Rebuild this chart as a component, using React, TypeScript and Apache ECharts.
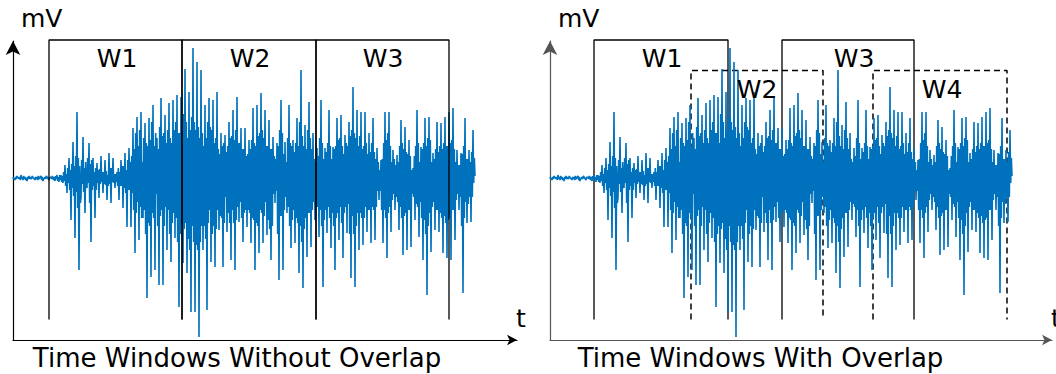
import { useEffect, useRef } from "react";
import * as echarts from "echarts";

// time step between samples (time units)
const SAMPLE_STEP = 2 / 3;

// EMG signal (mV, arbitrary units), one value per sample
const emgSignal = [
  1, -1, 0, -2, 1, -1, 2, 0, 1, -1, 1, -2, 3, -1, 1, -2, 2, -1, 1, -2, 0, -3, 1, -1, 2, -1, 1, -1, 0, 2,
  2, -1, 0, -2, 1, -1, 1, -2, 2, -1, 0, 1, 2, -2, 1, -3, 0, -1, 1, -1, 2, 2, 0, -1, -2, 1, 0, 1, -1, 2,
  2, -2, 1, -3, 2, -1, 3, -3, 1, -4, 3, -2, 3, -4, 2, -5, 6, -3, 13, -8, 4, -15, 10, -5, 20, -12, 8, -42, 14, -10,
  36, -18, 12, -60, 22, -14, 66, -30, 20, -92, 12, -25, -20, 18, -6, 41, -14, 10, -35, 16, -8, -10, 20, -5, 35, -25, 14, -64, 18, -12,
  20, -8, 6, -40, 10, -12, 15, -5, 8, -20, 9, -6, 22, -4, 6, -15, 6, -6, 18, -7, 7, -22, 3, -8, 25, -6, 10, -25, 10, -4,
  20, -5, 4, -10, 4, -4, 6, -8, 10, -22, 6, -8, 18, -8, 12, -30, 12, -10, 25, -15, 8, -49, 18, -12, 30, -12, 16, -49, 22, -15,
  50, -32, 29, -75, 45, -35, 61, -24, 32, -62, 48, -29, 66, -40, 16, -40, 40, -32, 55, -56, 35, -120, 32, -45, 60, -48, 38, -99, 56, -35,
  73, -40, 32, -92, 45, -16, 40, -48, 29, -107, 51, -38, 80, -32, 42, -107, 45, -48, 63, -29, 35, -72, 48, -32, 75, -56, 40, -84, 35, -45,
  78, -35, 48, -60, 56, -40, 83, -64, 45, -129, 45, -56, 81, -48, 35, -85, 64, -51, 109, -45, 56, -95, 40, -61, 86, -72, 48, -134, 61, -48,
  130, -64, 56, -134, 48, -67, 116, -72, 51, -159, 40, -64, 108, -48, 45, -72, 32, -48, 73, -61, 40, -132, 56, -45, 80, -32, 51, -84, 48, -56,
  78, -48, 35, -89, 40, -51, 86, -32, 29, -52, 24, -38, 45, -40, 32, -89, 35, -45, 43, -19, 26, -54, 32, -35, 56, -45, 40, -82, 42, -32,
  68, -45, 38, -92, 48, -42, 81, -29, 35, -44, 35, -24, 50, -40, 29, -64, 29, -35, 50, -32, 22, -49, 24, -32, 38, -35, 29, -65, 38, -40,
  70, -42, 35, -92, 32, -45, 73, -48, 42, -75, 45, -32, 85, -35, 48, -65, 40, -38, 68, -24, 32, -57, 32, -42, 58, -51, 29, -82, 29, -48,
  41, -16, 22, -25, 19, -13, 35, -56, 32, -102, 48, -38, 78, -38, 45, -92, 24, -32, 36, -19, 16, -35, 40, -29, 73, -48, 35, -70, 32, -42,
  38, -32, 26, -65, 35, -40, 60, -45, 32, -95, 56, -48, 108, -64, 42, -110, 32, -51, 53, -40, 29, -79, 48, -35, 76, -35, 40, -69, 29, -32,
  45, -24, 19, -42, 16, -26, 30, -29, 22, -59, 40, -32, 78, -48, 35, -109, 19, -42, 30, -32, 26, -55, 35, -29, 68, -40, 32, -70, 19, -35,
  31, -48, 29, -92, 32, -40, 60, -35, 38, -62, 40, -29, 63, -45, 32, -80, 24, -35, 43, -29, 35, -55, 32, -26, 56, -56, 42, -100, 48, -38,
  91, -56, 45, -109, 40, -48, 68, -35, 32, -72, 42, -35, 66, -40, 29, -67, 32, -40, 66, -29, 35, -54, 24, -32, 45, -32, 26, -65, 35, -29,
  60, -32, 26, -62, 19, -29, 30, -13, 16, -22, 8, -13, 18, -32, 19, -65, 35, -32, 66, -40, 38, -80, 45, -35, 66, -29, 32, -54, 16, -22,
  28, -16, 19, -32, 13, -19, 23, -24, 16, -52, 32, -29, 58, -40, 35, -77, 29, -38, 51, -35, 26, -72, 24, -32, 38, -32, 22, -69, 8, -16,
  10, -19, 22, -42, 32, -26, 68, -29, 35, -59, 16, -24, 31, -40, 29, -82, 35, -42, 60, -56, 32, -117, 40, -48, 61, -35, 38, -74, 16, -29,
  25, -24, 19, -52, 29, -32, 56, -32, 26, -54, 32, -35, 55, -40, 29, -75, 35, -38, 61, -45, 32, -80, 32, -42, 66, -40, 35, -82, 38, -32,
  70, -32, 29, -62, 16, -22, 28, -16, 13, -32, 13, -19, 25, -48, 24, -115, 32, -40, 60, -24, 19, -45, 19, -26, 28, -19, 16, -44, 26, -19,
  48, -5, 20, 2,
];

// Windows without overlap
const windowNamesA = ["W1", "W2", "W3"];
const windowStartA = [36, 169, 303];
const windowEndA = [169, 303, 436];
const labelTimeA = [104, 237, 370];

// Windows with overlap
const windowNamesB = ["W1", "W2", "W3", "W4"];
const windowStartB = [44, 141, 232, 323];
const windowEndB = [178, 273, 364, 457];
const windowDashedB = [false, true, false, true];
const labelTimeB = [112, 207, 304, 392];

const SOLID_TOP = 138;
const DASHED_TOP = 107.5;
const WIN_BOTTOM = -141.5;
const LABEL_V_SOLID = 119.7;
const LABEL_V_DASHED = 88.5;

const FONT = "DejaVu Sans";

export default function App() {
  const ref = useRef<HTMLDivElement>(null);

  useEffect(() => {
    if (!ref.current) return;
    const chart = echarts.init(ref.current, undefined, { renderer: "svg" });

    const axisColors = ["#000000", "#555555"];
    const winColors = ["#000000", "#000000"];
    const xMax = [504, 502];

    const signalData = emgSignal.map((v, k) => [k * SAMPLE_STEP, v]);

    const series: any[] = [];
    [0, 1].forEach((g) => {
      series.push({
        type: "line",
        xAxisIndex: g,
        yAxisIndex: g,
        data: signalData,
        symbol: "none",
        showSymbol: false,
        clip: false,
        silent: true,
        z: g === 0 ? 2 : 4,
        lineStyle: { color: "#0072BD", width: 1.6 },
      });
    });

    const addWindows = (
      g: number,
      names: string[],
      starts: number[],
      ends: number[],
      dashed: boolean[]
    ) => {
      names.forEach((name, k) => {
        const top = dashed[k] ? DASHED_TOP : SOLID_TOP;
        series.push({
          type: "line",
          name,
          xAxisIndex: g,
          yAxisIndex: g,
          data: [
            [starts[k], WIN_BOTTOM],
            [starts[k], top],
            [ends[k], top],
            [ends[k], WIN_BOTTOM],
          ],
          symbol: "none",
          showSymbol: false,
          clip: false,
          silent: true,
          z: g === 0 ? 3 : 2,
          lineStyle: {
            color: winColors[g],
            width: dashed[k] ? 1.5 : 1.3,
            type: dashed[k] ? [6, 4] : "solid",
          },
        });
      });
    };

    const dashedA = [false, false, false];
    addWindows(0, windowNamesA, windowStartA, windowEndA, dashedA);
    addWindows(1, windowNamesB, windowStartB, windowEndB, windowDashedB);

    const txt = (text: string, x: number, y: number, align: string, size: number) => ({
      type: "text",
      x,
      y,
      silent: true,
      z: 100,
      style: {
        text,
        fill: "#000",
        fontSize: size,
        fontFamily: FONT,
        align,
        verticalAlign: "middle",
      },
    });

    chart.setOption({
      animation: false,
      backgroundColor: "#ffffff",
      grid: [
        { left: 13, top: 41, width: 504, height: 299 },
        { left: 550, top: 41, width: 502, height: 299 },
      ],
      xAxis: [0, 1].map((g) => ({
        type: "value",
        gridIndex: g,
        min: 0,
        max: xMax[g],
        axisLine: {
          show: true,
          onZero: false,
          symbol: ["none", "arrow"],
          symbolSize: [8, 10],
          lineStyle: { color: axisColors[g], width: 1.2 },
        },
        axisTick: { show: false },
        axisLabel: { show: false },
        splitLine: { show: false },
      })),
      yAxis: [0, 1].map((g) => ({
        type: "value",
        gridIndex: g,
        min: -162,
        max: 137,
        axisLine: {
          show: true,
          onZero: false,
          symbol: ["none", "arrow"],
          symbolSize: [11, 14],
          lineStyle: { color: axisColors[g], width: 1.2 },
        },
        axisTick: { show: false },
        axisLabel: { show: false },
        splitLine: { show: false },
      })),
      series,
    });

    // window labels placed through the axes' scales
    const labelTexts: any[] = [];
    const placeLabels = (g: number, names: string[], times: number[], dashed: boolean[]) => {
      names.forEach((name, k) => {
        const p = chart.convertToPixel({ gridIndex: g } as any, [
          times[k],
          dashed[k] ? LABEL_V_DASHED : LABEL_V_SOLID,
        ]) as number[];
        labelTexts.push(txt(name, p[0], p[1], "center", 25));
      });
    };
    placeLabels(0, windowNamesA, labelTimeA, dashedA);
    placeLabels(1, windowNamesB, labelTimeB, windowDashedB);

    chart.setOption({
      graphic: [
        txt("mV", 21, 18.5, "left", 25),
        txt("mV", 558, 18.5, "left", 25),
        txt("t", 521, 318.5, "center", 25),
        txt("t", 1051, 318.5, "left", 25),
        txt("Time Windows Without Overlap", 237, 358, "center", 26),
        txt("Time Windows With Overlap", 760.5, 358, "center", 26),
        ...labelTexts,
      ],
    });

    return () => chart.dispose();
  }, []);

  return (
    <div
      ref={ref}
      style={{ position: "absolute", left: 0, top: 0, width: 1056, height: 374 }}
    />
  );
}
